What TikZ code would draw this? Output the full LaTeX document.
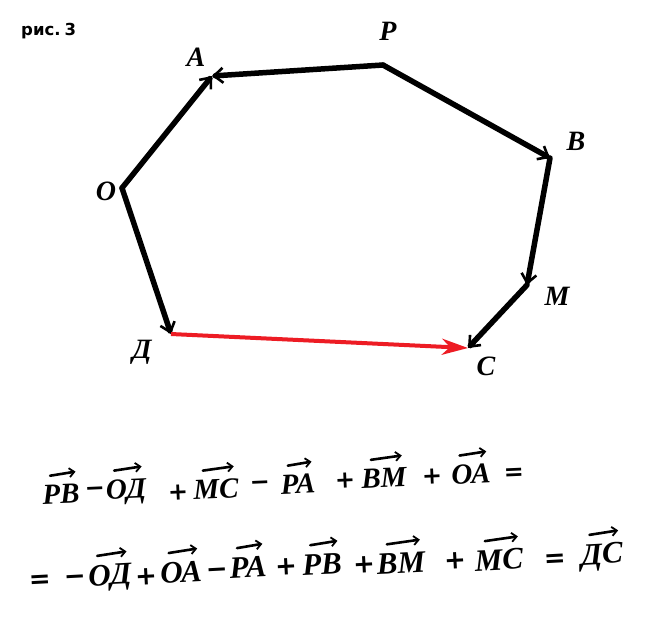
\documentclass[tikz,border=0pt]{standalone}
\usepackage{fontspec}
\setmainfont{Liberation Serif}
\newfontfamily\hdfont{Liberation Serif}
\newfontfamily\capfont{DejaVu Sans}
\usetikzlibrary{arrows.meta,calc}
\definecolor{vred}{RGB}{237,28,36}
\tikzset{
  vec/.style={line width=5.5pt, line cap=round, line join=round, -{Straight Barb[length=9pt,width=15pt,line width=2.6pt]}},
  redvec/.style={line width=4pt, draw=vred, -{Stealth[length=26pt,width=16pt,inset=8pt]}},
  lbl/.style={font=\hdfont\bfseries\itshape\fontsize{28}{28}\selectfont, inner sep=0pt},
  termA/.style={font=\hdfont\bfseries\itshape\fontsize{29}{29}\selectfont, inner sep=0pt, rotate=2.5},
  termB/.style={font=\hdfont\bfseries\itshape\fontsize{31}{31}\selectfont, inner sep=0pt, rotate=3},
  opA/.style={font=\capfont\bfseries\fontsize{24}{24}\selectfont, inner sep=0pt, rotate=2.5},
  opB/.style={font=\capfont\bfseries\fontsize{26}{26}\selectfont, inner sep=0pt, rotate=3},
  ov/.style={line width=2.6pt, line cap=round, -{Straight Barb[length=5pt,width=9pt,line width=1.8pt]}}
}
% #1 name, #2 style, #3 position, #4 text
\newcommand{\vterm}[4]{%
  \node[#2] (#1) at #3 {#4};
  \draw[ov] ($(#1.north west)!0.22!(#1.north east)+(0,-9)$) -- ($(#1.north west)!0.9!(#1.north east)+(0,-12)$);
}
\begin{document}
\begin{tikzpicture}[x=1pt,y=-1pt]
\useasboundingbox (0,0) rectangle (661,619);
\fill[white] (0,0) rectangle (661,619);
% vertices
\coordinate (O) at (122,188);
\coordinate (A) at (212,76);
\coordinate (P) at (383,65);
\coordinate (B) at (550,158);
\coordinate (M) at (527,285);
\coordinate (C) at (468,348);
\coordinate (D) at (171,334);
\draw[vec] (O) -- (A);
\draw[vec] (P) -- (A);
\draw[vec] (P) -- (B);
\draw[vec] (B) -- (M);
\draw[vec] (M) -- (C);
\draw[vec] (O) -- (D);
\draw[redvec] (D) -- (C);
% caption and labels
\node[font=\capfont\bfseries\fontsize{16.5}{16.5}\selectfont, anchor=west, inner sep=0pt] (cap) at (21,31) {рис.\hspace{4pt}3};
\node[lbl] (lO) at (106,191) {О};
\node[lbl] (lA) at (196,57) {А};
\node[lbl] (lP) at (388,31) {Р};
\node[lbl] (lB) at (576,141) {В};
\node[lbl] (lM) at (557,296) {М};
\node[lbl] (lC) at (486,366) {С};
\node[lbl] (lD) at (142,352) {Д};
% line 1
\vterm{t1}{termA}{(61,494)}{РВ}
\node[opA] (m1) at (95,492) {−};
\vterm{t2}{termA}{(126,492)}{ОД}
\node[opA] (p1) at (178,493) {+};
\vterm{t3}{termA}{(216,489)}{МС}
\node[opA] (m2) at (260,486) {−};
\vterm{t4}{termA}{(298,484)}{РА}
\node[opA] (p2) at (345,481) {+};
\vterm{t5}{termA}{(384,478)}{ВМ}
\node[opA] (p3) at (432,477) {+};
\vterm{t6}{termA}{(471,474)}{ОА}
\node[opA] (e1) at (514,474) {=};
% line 2
\node[opB] (e2) at (40,582) {=};
\node[opB] (m3) at (75,580) {−};
\vterm{t7}{termB}{(110,578)}{ОД}
\node[opB] (p4) at (146,577) {+};
\vterm{t8}{termB}{(181,572)}{ОА}
\node[opB] (m4) at (217,573) {−};
\vterm{t9}{termB}{(248,567)}{РА}
\node[opB] (p5) at (286,567) {+};
\vterm{t10}{termB}{(322,564)}{РВ}
\node[opB] (p6) at (364,565) {+};
\vterm{t11}{termB}{(401,563)}{ВМ}
\node[opB] (p7) at (455,561) {+};
\vterm{t12}{termB}{(499,560)}{МС}
\node[opB] (e3) at (555,561) {=};
\vterm{t13}{termB}{(602,557)}{ДС}
\end{tikzpicture}
\end{document}
